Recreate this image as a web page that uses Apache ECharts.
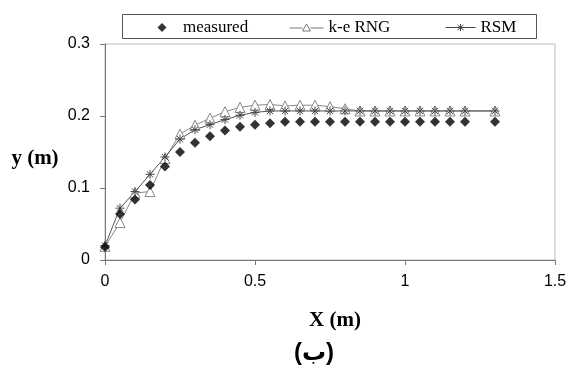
<!DOCTYPE html>
<html><head><meta charset="utf-8">
<script src="https://cdn.jsdelivr.net/npm/echarts@6/dist/echarts.min.js"></script>
<style>html,body{margin:0;padding:0;background:#fff}#c{width:574px;height:374px}</style>
</head><body><div id="c"></div>
<script>
const xValues = [0,0.05,0.1,0.15,0.2,0.25,0.3,0.35,0.4,0.45,0.5,0.55,0.6,0.65,0.7,0.75,0.8,0.85,0.9,0.95,1.0,1.05,1.1,1.15,1.2,1.3];
const measured = [0.018,0.064,0.084,0.104,0.130,0.150,0.163,0.172,0.180,0.185,0.188,0.190,0.192,0.192,0.192,0.192,0.192,0.192,0.192,0.192,0.192,0.192,0.192,0.192,0.192,0.192];
const keRNG = [0.019,0.052,0.093,0.095,0.141,0.175,0.187,0.197,0.206,0.212,0.215,0.216,0.214,0.215,0.215,0.213,0.210,0.207,0.207,0.207,0.207,0.207,0.207,0.207,0.207,0.207];
const rsm = [0.020,0.072,0.095,0.119,0.143,0.168,0.181,0.188,0.195,0.201,0.205,0.207,0.207,0.207,0.207,0.207,0.207,0.207,0.207,0.207,0.207,0.207,0.207,0.207,0.207,0.207];
const seriesNames = ['measured','k-e RNG','RSM'];
const xTicks = [0,0.5,1,1.5];
const yTicks = [0,0.1,0.2,0.3];
const pair = a => xValues.map((x,i)=>[x,a[i]]);
const star = 'path://M0,-1L0,1M-1,0L1,0M-0.7,-0.7L0.7,0.7M-0.7,0.7L0.7,-0.7';
const legendText = {fontFamily:'Liberation Serif',fontSize:17,color:'#000'};
const mkLegend = (name,left,w,gap,icon,style) => ({
  left:left, top:19, padding:0, itemWidth:w, itemHeight:9, itemTextGap:gap,
  textStyle:legendText, data:[{name:name,icon:icon,itemStyle:style}]
});
const chart = echarts.init(document.getElementById('c'));
chart.setOption({
  animation:false,
  backgroundColor:'#fff',
  grid:{left:105,right:19,top:44,bottom:114,show:true,borderColor:'#bbb',borderWidth:1},
  legend:[
    mkLegend(seriesNames[0],146,32,2,'path://M0,0M32,9M11.5,4.5L16,0L20.5,4.5L16,9Z',{color:'#000',borderWidth:0}),
    mkLegend(seriesNames[1],289,34,5,'path://M0,5L13,5M21,5L34,5M17,1L21,8L13,8Z',{color:'#fff',borderColor:'#777',borderWidth:1}),
    mkLegend(seriesNames[2],443,30,3,'path://M0,4.5L30,4.5M15,1L15,8M12,2L18,7M12,7L18,2',{color:'none',borderColor:'#444',borderWidth:1})
  ],
  xAxis:{type:'value',min:0,max:1.5,interval:0.5,
    axisLine:{lineStyle:{color:'#777'}},
    axisTick:{show:true,length:5,inside:false,lineStyle:{color:'#777'}},
    splitLine:{show:false},
    axisLabel:{fontFamily:'Liberation Sans',fontSize:16,color:'#000',margin:14,
      formatter:v=>{const t=xTicks.find(u=>Math.abs(u-v)<1e-9);return t===undefined?'':String(t);}}},
  yAxis:{type:'value',min:0,max:0.3,interval:0.1,
    axisLine:{show:true,lineStyle:{color:'#777'}},
    axisTick:{show:true,length:5,lineStyle:{color:'#777'}},
    splitLine:{show:false},
    axisLabel:{fontFamily:'Liberation Sans',fontSize:16,color:'#000',margin:15,
      formatter:v=>{const t=yTicks.find(u=>Math.abs(u-v)<1e-9);return t===undefined?'':String(t);}}},
  graphic:[
    {type:'rect',shape:{x:122.5,y:14.5,width:414,height:24},style:{fill:'none',stroke:'#555',lineWidth:1},z:-1},
    {type:'text',x:35,y:159,style:{text:'y (m)',font:'bold 21px "Liberation Serif"',fill:'#000',textAlign:'center',textVerticalAlign:'middle'}},
    {type:'text',x:335,y:321,style:{text:'X (m)',font:'bold 21px "Liberation Serif"',fill:'#000',textAlign:'center',textVerticalAlign:'middle'}},
    {type:'text',x:314,y:353,style:{text:'(ب)',font:'bold 24px "Liberation Sans", "DejaVu Sans"',fill:'#000',textAlign:'center',textVerticalAlign:'middle'}}
  ],
  series:[
    {name:seriesNames[0],type:'scatter',data:pair(measured),symbol:'diamond',symbolSize:10,
      itemStyle:{color:'#000'},z:3},
    {name:seriesNames[1],type:'line',data:pair(keRNG),symbol:'triangle',symbolSize:10,showAllSymbol:true,
      lineStyle:{color:'#888',width:1},
      itemStyle:{color:'#fff',borderColor:'#888',borderWidth:1},z:2},
    {name:seriesNames[2],type:'line',data:pair(rsm),symbol:star,symbolSize:9,showAllSymbol:true,
      lineStyle:{color:'#555',width:1},
      itemStyle:{color:'rgba(0,0,0,0)',borderColor:'#444',borderWidth:1},z:2}
  ]
});
</script></body></html>
